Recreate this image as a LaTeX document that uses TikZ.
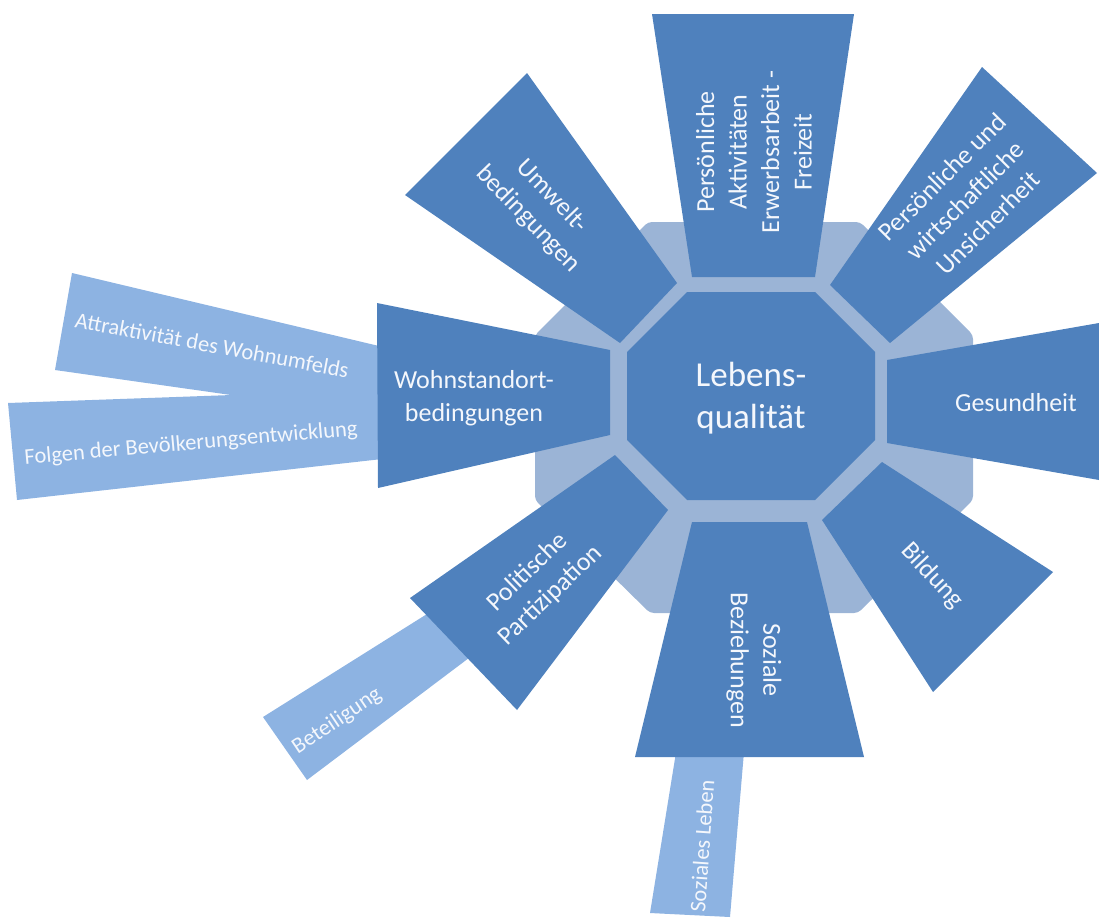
\documentclass[tikz,border=0pt]{standalone}
\usepackage{fontspec}
\setmainfont{Carlito}
\definecolor{spokeblue}{HTML}{4F81BD}
\definecolor{ringblue}{HTML}{9BB4D6}
\definecolor{subblue}{HTML}{8DB3E2}
\definecolor{labeltext}{HTML}{F4F7FC}

\begin{document}
\begin{tikzpicture}[x=1pt,y=-1pt,
  spoke/.style={fill=spokeblue},
  sub/.style={fill=subblue},
  lbl/.style={text=labeltext, align=center, inner sep=0pt,
    font=\fontsize{26}{32.5}\selectfont},
  sublbl/.style={text=labeltext, align=center, inner sep=0pt,
    font=\fontsize{22.5}{27}\selectfont},
  core/.style={text=labeltext, align=center, inner sep=0pt,
    font=\fontsize{35}{42}\selectfont},
]
\useasboundingbox (0,0) rectangle (1099,918);

% light octagon behind everything
\fill[ringblue, rounded corners=4pt]
  (648,222) -- (860,222) -- (973,335) -- (973,500) -- (858,613)
  -- (650,613) -- (535,500) -- (535,335) -- cycle;

% secondary strips (drawn first, tucked under the spokes)
\fill[sub] (72,273) -- (400,351) -- (400,419) -- (55,370) -- cycle;
\fill[sub] (8,403) -- (400,389) -- (400,457) -- (17,500) -- cycle;
\fill[sub] (263,717) -- (470,587) -- (510,627) -- (307,780) -- cycle;
\fill[sub] (678,740) -- (745,740) -- (730,917) -- (650,913) -- cycle;

% eight spokes
\fill[spoke] (652,14) -- (854,14) -- (815,277) -- (692,277) -- cycle;
\fill[spoke] (982,67) -- (1097,173) -- (890,343) -- (830,285) -- cycle;
\fill[spoke] (887,360) -- (1099,323) -- (1099,480) -- (887,443) -- cycle;
\fill[spoke] (882,462) -- (1053,572) -- (933,692) -- (822,520) -- cycle;
\fill[spoke] (692,522) -- (807,522) -- (864,757) -- (635,757) -- cycle;
\fill[spoke] (615,455) -- (668,510) -- (517,710) -- (410,598) -- cycle;
\fill[spoke] (377,303) -- (610,350) -- (610,435) -- (378,488) -- cycle;
\fill[spoke] (527,73) -- (677,283) -- (620,343) -- (405,195) -- cycle;

% central octagon
\fill[spoke] (687,292) -- (815,292) -- (875,352) -- (875,440) -- (815,500)
  -- (687,500) -- (627,440) -- (627,352) -- cycle;

% labels
\node[core] (lq) at (751,398) {Lebens-\\qualität};
\node[lbl, rotate=90] (akt) at (754,152) {Persönliche\\Aktivitäten\\Erwerbsarbeit -\\Freizeit};
\node[lbl, rotate=45] (unsi) at (965,200) {Persönliche und\\wirtschaftliche\\Unsicherheit};
\node[lbl] (ges) at (1016,403) {Gesundheit};
\node[lbl, rotate=-47] (bil) at (932,576) {Bildung};
\node[lbl, rotate=-90] (soz) at (754,660) {Soziale\\Beziehungen};
\node[lbl, rotate=44] (pol) at (539,584) {Politische\\Partizipation};
\node[lbl] (wohn) at (474,398) {Wohnstandort-\\bedingungen};
\node[lbl, rotate=-46] (umw) at (540,208) {Umwelt-\\bedingungen};

\node[sublbl, rotate=-10.5] (attr) at (212,345) {Attraktivität des Wohnumfelds};
\node[sublbl, rotate=5] (folg) at (191,444) {Folgen der Bevölkerungsentwicklung};
\node[sublbl, rotate=34] (bet) at (337,721) {Beteiligung};
\node[sublbl, rotate=86] (sozl) at (702,846) {Soziales Leben};
\end{tikzpicture}
\end{document}
